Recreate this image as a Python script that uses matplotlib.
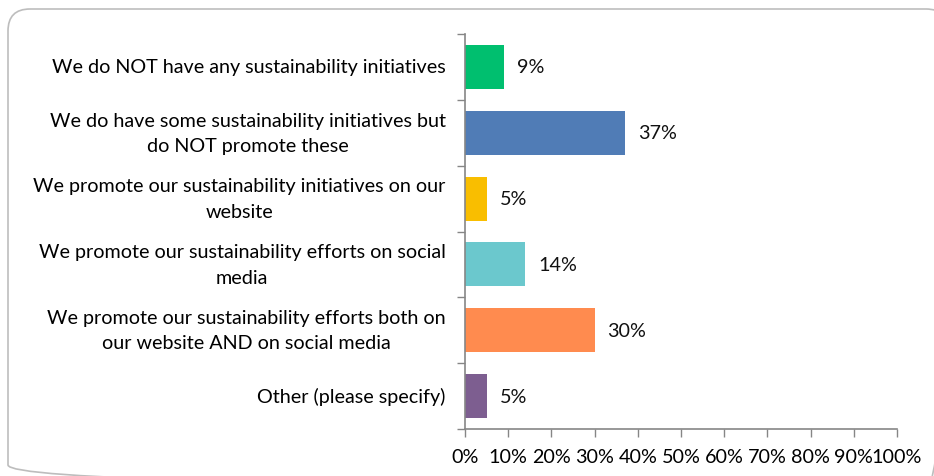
import numpy as np
import matplotlib
matplotlib.use("Agg")
import matplotlib.pyplot as plt
from matplotlib.patches import FancyBboxPatch

categories = [
    "We do NOT have any sustainability initiatives",
    "We do have some sustainability initiatives but\ndo NOT promote these",
    "We promote our sustainability initiatives on our\nwebsite",
    "We promote our sustainability efforts on social\nmedia",
    "We promote our sustainability efforts both on\nour website AND on social media",
    "Other (please specify)",
]
values = [9, 37, 5, 14, 30, 5]
colors = ["#00BF6F", "#507CB6", "#F9BE00", "#6BC8CD", "#FF8B4F", "#7D5E90"]
x_ticks = list(range(0, 101, 10))

plt.rcParams["font.family"] = ["Lato", "DejaVu Sans"]
W, H = 934, 477
FS = 14.2
fig = plt.figure(figsize=(W / 100, H / 100), dpi=100)

# background layer in pixel units for the rounded frame
bg = fig.add_axes([0, 0, 1, 1])
bg.set_xlim(0, W)
bg.set_ylim(H, 0)
bg.axis("off")
bg.add_patch(FancyBboxPatch((8, 10), 940, 478,
                            boxstyle="round,pad=0,rounding_size=22",
                            facecolor="none", edgecolor="#BDBDBD", linewidth=1.2))

ax = fig.add_axes([465 / W, 1 - 430 / H, 432 / W, 395 / H])
n = len(categories)
y = np.arange(n)
ax.barh(y, values, height=0.67, color=colors)
for yi, v in zip(y, values):
    ax.text(v + 3, yi, f"{v}%", va="center", ha="left", fontsize=FS, color="#111111")

ax.set_xlim(0, 100)
ax.set_ylim(n - 0.5, -0.5)
ax.set_xticks(x_ticks)
ax.set_xticklabels([f"{t}%" for t in x_ticks], fontsize=FS)
ax.set_yticks(y)
ax.set_yticklabels(categories, fontsize=FS, ha="right", va="center",
                   multialignment="center", linespacing=1.6)
ax.set_yticks(np.arange(n + 1) - 0.5, minor=True)
ax.tick_params(axis="y", which="major", length=0, pad=14)
ax.tick_params(axis="y", which="minor", length=6, color="#868686", width=1)
ax.tick_params(axis="x", length=6, color="#868686", width=1, pad=8)
for s in ["top", "right"]:
    ax.spines[s].set_visible(False)
for s in ["left", "bottom"]:
    ax.spines[s].set_color("#868686")
    ax.spines[s].set_linewidth(1.2)

fig.savefig("out.png", dpi=100)
